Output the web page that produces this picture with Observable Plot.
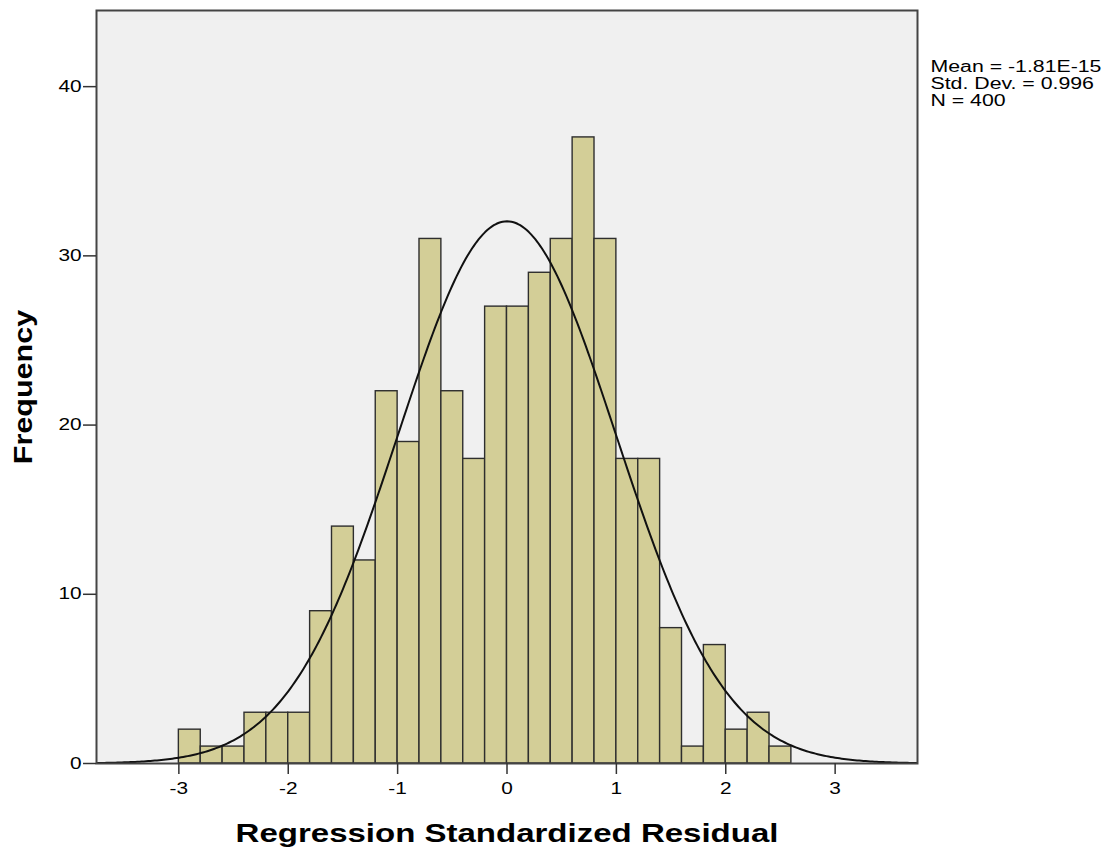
<!DOCTYPE html>
<html>
<head>
<meta charset="utf-8">
<script src="https://cdn.jsdelivr.net/npm/d3@7"></script>
<script src="https://cdn.jsdelivr.net/npm/@observablehq/plot@0.6"></script>
<style>
  html, body { margin: 0; padding: 0; background: #fff; }
  svg { display: block; }
  g[aria-label="x-axis label"] text, g[aria-label="y-axis label"] text { font-weight: bold; font-size: 25px; fill: #000; }
</style>
</head>
<body>
<div id="chart"></div>
<script>
const binStarts = [-3.0, -2.8, -2.6, -2.4, -2.2, -2.0, -1.8, -1.6, -1.4, -1.2, -1.0, -0.8, -0.6, -0.4,
                   -0.2, 0.0, 0.2, 0.4, 0.6, 0.8, 1.0, 1.2, 1.4, 1.6, 1.8, 2.0, 2.2, 2.4];
const binWidth = 0.2;
const counts = [2, 1, 1, 3, 3, 3, 9, 14, 12, 22, 19, 31, 22, 18,
                27, 27, 29, 31, 37, 31, 18, 18, 8, 1, 7, 2, 3, 1];
const xTicks = [-3, -2, -1, 0, 1, 2, 3];
const yTicks = [0, 10, 20, 30, 40];
const mean = -1.81e-15;
const sd = 0.996;
const N = 400;
const statsLines = ["Mean = -1.81E-15", "Std. Dev. = 0.996", "N = 400"];

const bins = binStarts.map((s, i) => ({x1: s, x2: s + binWidth, y: counts[i]}));

// normal curve from the stated mean / sd / N
const xs = d3.range(-3.76, 3.7601, 0.02);
const curve = xs.map(x => ({x, y: N * binWidth * Math.exp(-0.5 * ((x - mean) / sd) ** 2) / (sd * Math.sqrt(2 * Math.PI))}));

const chart = Plot.plot({
  width: 1109,
  height: 859,
  marginLeft: 96,
  marginRight: 192,
  marginTop: 10,
  marginBottom: 96,
  style: {fontFamily: "'Liberation Sans', Arial, sans-serif", fontSize: "16px", color: "#000", background: "#fff"},
  x: {domain: [-3.753, 3.753]},
  y: {domain: [0, 44.5]},
  marks: [
    Plot.frame({fill: "#f0f0f0", stroke: null}),
    Plot.rectY(bins, {x1: "x1", x2: "x2", y: "y", fill: "#d3ce97", stroke: "#2e2e2e", strokeWidth: 1.4}),
    Plot.line(curve, {x: "x", y: "y", stroke: "#111", strokeWidth: 2, clip: true}),
    Plot.frame({stroke: "#444", strokeWidth: 2}),
    Plot.axisY({ticks: yTicks, tickSize: 13, tickPadding: 2, stroke: "#333", strokeWidth: 1.5, fontSize: 16, label: "Frequency", labelAnchor: "center", labelOffset: 82, labelArrow: "none", tickFormat: d => d}),
    Plot.axisX({ticks: xTicks, tickSize: 11, tickPadding: 8, stroke: "#333", strokeWidth: 1.5, fontSize: 16, label: "Regression Standardized Residual", labelAnchor: "center", labelOffset: 78, labelArrow: "none", tickFormat: d => d}),
    ...statsLines.map((t, i) => Plot.text([t], {frameAnchor: "top-right", dx: 13, dy: 56 + i * 17, textAnchor: "start", lineAnchor: "middle", fontSize: 16, fill: "#000", className: "stats"}))
  ]
});
document.getElementById("chart").appendChild(chart);

// the reference's text is widened along its baseline; widen glyphs to match
function stretch(sel, f) {
  chart.querySelectorAll(sel).forEach(el => {
    const L = el.getComputedTextLength();
    if (L > 0) {
      el.setAttribute("textLength", (L * f).toFixed(2));
      el.setAttribute("lengthAdjust", "spacingAndGlyphs");
    }
  });
}
stretch('g[aria-label="x-axis tick label"] text', 1.3);
stretch('g[aria-label="y-axis tick label"] text', 1.3);
stretch('g[aria-label="x-axis label"] text', 1.32);
stretch('g[aria-label="y-axis label"] text', 1.22);
stretch('.stats text', 1.33);
</script>
</body>
</html>
